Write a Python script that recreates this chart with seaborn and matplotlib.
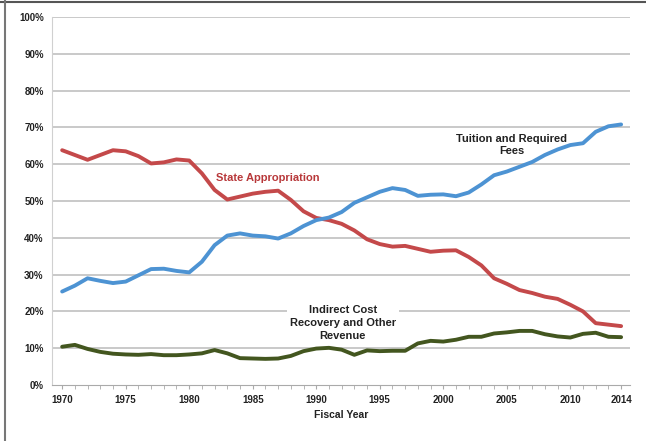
import numpy as np
import pandas as pd
import seaborn as sns
import matplotlib.pyplot as plt
from matplotlib.lines import Line2D
from matplotlib.ticker import MultipleLocator, PercentFormatter

years = list(range(1970, 2015))

state_approp = [63.8, 62.5, 61.2, 62.5, 63.8, 63.5, 62.2, 60.2, 60.5, 61.3,
                61.0, 57.5, 53.0, 50.4, 51.2, 52.0, 52.5, 52.8, 50.3, 47.2,
                45.4, 44.8, 43.8, 42.0, 39.6, 38.3, 37.6, 37.8, 37.0, 36.2,
                36.5, 36.6, 34.8, 32.5, 29.0, 27.5, 25.8, 25.0, 24.0, 23.4,
                21.8, 20.0, 16.8, 16.4, 16.0]

tuition_fees = [25.4, 27.0, 29.0, 28.3, 27.7, 28.1, 29.8, 31.5, 31.6, 31.0,
                30.6, 33.5, 38.0, 40.6, 41.2, 40.6, 40.4, 39.8, 41.2, 43.2,
                44.8, 45.5, 47.0, 49.5, 51.0, 52.5, 53.5, 53.0, 51.4, 51.7,
                51.8, 51.3, 52.3, 54.5, 57.0, 58.0, 59.3, 60.6, 62.5, 64.0,
                65.2, 65.7, 68.8, 70.3, 70.8]

indirect_other = [10.4, 10.9, 9.8, 9.0, 8.5, 8.3, 8.2, 8.4, 8.1, 8.1,
                  8.3, 8.6, 9.5, 8.6, 7.3, 7.2, 7.1, 7.2, 7.9, 9.2,
                  9.9, 10.1, 9.6, 8.2, 9.4, 9.2, 9.3, 9.3, 11.3, 12.0,
                  11.8, 12.3, 13.1, 13.1, 14.0, 14.3, 14.7, 14.7, 13.8, 13.2,
                  12.9, 13.9, 14.2, 13.1, 13.0]

series_names = ["State Appropriation", "Tuition and Required Fees",
                "Indirect Cost Recovery and Other Revenue"]
colors = ["#c4494a", "#4d93d3", "#43561f"]
label_ticks = [1970, 1975, 1980, 1985, 1990, 1995, 2000, 2005, 2010, 2014]

df = pd.DataFrame({
    "year": years * 3,
    "share": state_approp + tuition_fees + indirect_other,
    "source": [series_names[0]] * len(years) + [series_names[1]] * len(years)
              + [series_names[2]] * len(years),
})

sns.set_style("white")
plt.rcParams['font.family'] = ['Liberation Sans', 'DejaVu Sans']

fig = plt.figure(figsize=(6.46, 4.41), dpi=100)
ax = fig.add_axes([52 / 646, 1 - 385 / 441, (630 - 52) / 646, (385 - 17) / 441])

for y in range(10, 101, 10):
    ax.axhline(y, color="#c9c9c9", lw=1.4, zorder=0)

sns.lineplot(data=df, x="year", y="share", hue="source", palette=colors,
             hue_order=series_names, linewidth=2.8, legend=False, ax=ax, zorder=3)

ax.set_xlim(1969.2, 2014.7)
ax.set_ylim(0, 100)
ax.yaxis.set_major_locator(MultipleLocator(10))
ax.yaxis.set_major_formatter(PercentFormatter(decimals=0))
ax.set_xticks(label_ticks)
ax.set_xticklabels([str(t) for t in label_ticks])
ax.xaxis.set_minor_locator(MultipleLocator(1))
ax.tick_params(axis="x", which="both", direction="out", length=3, color="#aaaaaa",
               labelsize=7, pad=4, bottom=True)
ax.tick_params(axis="y", length=0, labelsize=7, pad=6)
for lab in ax.get_xticklabels() + ax.get_yticklabels():
    lab.set_fontweight("bold")
    lab.set_color("#222222")

for side in ["top", "right"]:
    ax.spines[side].set_visible(False)
ax.spines["left"].set_color("#d0d0d0")
ax.spines["bottom"].set_color("#aaaaaa")
ax.set_ylabel("")
ax.set_xlabel("Fiscal Year", fontsize=7.5, fontweight="bold", color="#222222", labelpad=4)

ax.text(1986.2, 56.3, "State Appropriation", color="#b8383a", fontsize=8,
        fontweight="bold", ha="center", va="center", zorder=5)
ax.text(2005.4, 65.2, "Tuition and Required\nFees", color="#222222", fontsize=8,
        fontweight="bold", ha="center", va="center", linespacing=1.35, zorder=5)
ax.text(1992.1, 16.9, "Indirect Cost\nRecovery and Other\nRevenue", color="#222222",
        fontsize=8, fontweight="bold", ha="center", va="center", linespacing=1.35,
        zorder=5, bbox=dict(facecolor="white", edgecolor="none", pad=2))

# figure frame (top and left edges)
fig.add_artist(Line2D([0, 1], [1 - 1.5 / 441] * 2, color="#555555", lw=1.5,
                      transform=fig.transFigure))
fig.add_artist(Line2D([4.5 / 646] * 2, [0, 1], color="#777777", lw=1.5,
                      transform=fig.transFigure))

fig.savefig("out.png", dpi=100)
